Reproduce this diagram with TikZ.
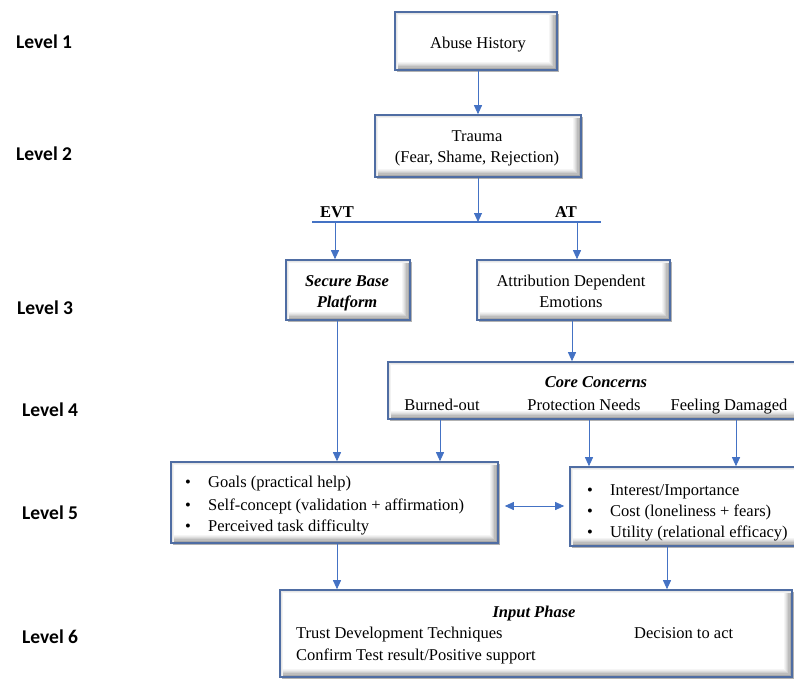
\documentclass[tikz,border=0pt]{standalone}
\usepackage{fontspec}
\setmainfont{Liberation Serif}
\newfontfamily\lvlfont{Carlito}
\usetikzlibrary{arrows.meta,shadows}
\definecolor{linkblue}{HTML}{4472C4}
\definecolor{boxedge}{HTML}{4F6DA3}
\definecolor{boxdark}{HTML}{3A4560}
\begin{document}
\begin{tikzpicture}[x=1pt,y=-1pt,
  every node/.style={inner sep=0pt,font=\rmfamily\fontsize{16.5}{21}\selectfont},
  box/.style={draw=boxedge,line width=1.6pt,fill=white,rectangle,
    drop shadow={shadow xshift=1.8pt,shadow yshift=-1.8pt,fill=black,opacity=0.3},
    path picture={
      % soft inner bevel along the right and bottom edges
      \foreach \i/\c in {1/34,2/26,3/19,4/13,5/8,6/4}{
        \pgfmathsetmacro\d{0.6+1.2*\i}
        \draw[black!\c,line width=1.3pt]
          ([xshift=-\d pt]path picture bounding box.north east)
          -- ([xshift=-\d pt,yshift=\d pt]path picture bounding box.south east)
          -- ([yshift=\d pt]path picture bounding box.south west);
      }
      % faint inner edge along the top and left
      \foreach \i/\c in {1/10,2/5}{
        \pgfmathsetmacro\d{0.2+1.2*\i}
        \draw[black!\c,line width=1.3pt]
          ([xshift=\d pt]path picture bounding box.south west)
          -- ([xshift=\d pt,yshift=-\d pt]path picture bounding box.north west)
          -- ([yshift=-\d pt]path picture bounding box.north east);
      }
      \draw[boxdark,line width=2.4pt]
        (path picture bounding box.north east) -- (path picture bounding box.south east)
        -- (path picture bounding box.south west);
    }},
  txt/.style={anchor=base},
  lvl/.style={anchor=base west,font=\lvlfont\bfseries\fontsize{19.5}{22}\selectfont},
  arr/.style={draw=linkblue,line width=0.9pt,-{Triangle[length=9pt,width=8pt]}},
  conn/.style={draw=linkblue,line width=0.9pt},
  item/.style={anchor=base west},
  dot/.style={anchor=base}]
\useasboundingbox (0,0) rectangle (794,680);
\clip (0,0) rectangle (794,680);

% level labels
\node[lvl] (lv1) at (16,48) {Level 1};
\node[lvl] (lv2) at (16,160) {Level 2};
\node[lvl] (lv3) at (17,314) {Level 3};
\node[lvl] (lv4) at (22,416) {Level 4};
\node[lvl] (lv5) at (22,519) {Level 5};
\node[lvl] (lv6) at (22,643) {Level 6};

% boxes
\node[box,minimum width=162pt,minimum height=58pt] (abuse) at (476,41) {};
\node[box,minimum width=206pt,minimum height=62pt] (trauma) at (478,146) {};
\node[box,minimum width=124pt,minimum height=60pt] (secure) at (348,290) {};
\node[box,minimum width=193pt,minimum height=60pt] (attrib) at (573.5,290) {};
\node[box,minimum width=432pt,minimum height=57pt] (core) at (604,390.5) {};
\node[box,minimum width=327pt,minimum height=81pt] (goals) at (334.5,502.5) {};
\node[box,minimum width=250pt,minimum height=79pt] (util) at (695,506.5) {};
\node[box,minimum width=512pt,minimum height=87pt] (input) at (536,633.5) {};

% box texts
\node[txt] (abuseT) at (478,48) {Abuse History};
\node[txt] (traumaT1) at (477,141) {Trauma};
\node[txt] (traumaT2) at (477,162) {(Fear, Shame, Rejection)};
\node[txt] (secT1) at (347,286) {\bfseries\itshape Secure Base};
\node[txt] (secT2) at (347,307) {\bfseries\itshape Platform};
\node[txt] (attT1) at (571,286) {Attribution Dependent};
\node[txt] (attT2) at (571,307) {Emotions};

\node[txt] (coreT) at (596,387) {\bfseries\itshape Core Concerns};
\node[txt] (burn) at (442,410) {Burned-out};
\node[txt] (prot) at (584,410) {Protection Needs};
\node[txt] (feel) at (729,410) {Feeling Damaged};

\node[dot] (gb1) at (188,487) {\textbullet};
\node[dot] (gb2) at (188,510) {\textbullet};
\node[dot] (gb3) at (188,531) {\textbullet};
\node[item] (g1) at (208,487) {Goals (practical help)};
\node[item] (g2) at (208,510) {Self-concept (validation + affirmation)};
\node[item] (g3) at (208,531) {Perceived task difficulty};

\node[dot] (ub1) at (590,495) {\textbullet};
\node[dot] (ub2) at (590,516) {\textbullet};
\node[dot] (ub3) at (590,537) {\textbullet};
\node[item] (u1) at (610,495) {Interest/Importance};
\node[item] (u2) at (610,516) {Cost (loneliness + fears)};
\node[item] (u3) at (610,537) {Utility (relational efficacy)};

\node[txt] (inT) at (534,617) {\bfseries\itshape Input Phase};
\node[item] (in1) at (296,638) {Trust Development Techniques};
\node[item] (in2) at (634,638) {Decision to act};
\node[item] (in3) at (296,660) {Confirm Test result/Positive support};

% theory split bar
\coordinate (barL) at (312,222);
\coordinate (barR) at (601,222);
\node[txt] (evt) at (337,217) {\bfseries EVT};
\node[txt] (at) at (566,217) {\bfseries AT};

% column positions of the vertical connectors
\coordinate (cEvt) at (335,0);
\coordinate (cAt) at (577,0);
\coordinate (cSec) at (337,0);
\coordinate (cAtt) at (572,0);
\coordinate (cBurn) at (440,0);
\coordinate (cProt) at (589,0);
\coordinate (cFeel) at (736,0);
\coordinate (cUtil) at (667,0);

% connectors
\draw[arr] (abuse.south -| trauma.north) -- (trauma.north);
\draw[conn,line width=2.2pt] (barL) -- (barR);
\draw[arr] (trauma.south) -- (trauma.south |- barL);
\draw[arr] (barL -| cEvt) -- (secure.north -| cEvt);
\draw[arr] (barL -| cAt) -- (attrib.north -| cAt);
\draw[arr] (secure.south -| cSec) -- (goals.north -| cSec);
\draw[arr] (attrib.south -| cAtt) -- (core.north -| cAtt);
\draw[arr] (core.south -| cBurn) -- (goals.north -| cBurn);
\draw[arr] (core.south -| cProt) -- (util.north -| cProt);
\draw[arr] (core.south -| cFeel) -- (util.north -| cFeel);
\draw[arr,{Triangle[length=9pt,width=8pt]}-{Triangle[length=9pt,width=8pt]},shorten <=6pt,shorten >=5pt] (goals.east |- 0,506) -- (util.west |- 0,506);
\draw[arr] (goals.south -| cSec) -- (input.north -| cSec);
\draw[arr] (util.south -| cUtil) -- (input.north -| cUtil);
\end{tikzpicture}
\end{document}
